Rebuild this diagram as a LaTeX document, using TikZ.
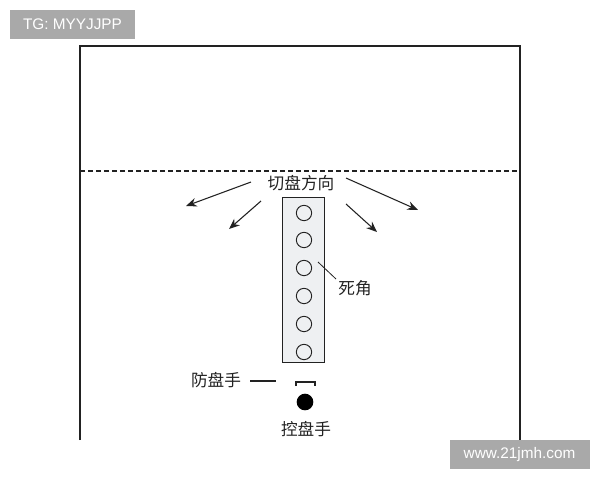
\documentclass[tikz,border=0pt]{standalone}
\usepackage{fontspec}
\setmainfont{Liberation Sans}
\newfontfamily\cjk{Noto Sans CJK SC}
\usetikzlibrary{arrows.meta}
\definecolor{wmgray}{HTML}{A9A9A9}
\definecolor{colfill}{HTML}{EEF0F2}
\definecolor{ink}{HTML}{222222}
\tikzset{
  thin line/.style={draw=ink, line width=0.8pt},
  dir arrow/.style={thin line, -{Stealth[length=8pt,width=6.5pt]}},
  hole/.style={circle, draw=ink, line width=0.7pt, minimum size=11.5pt, inner sep=0pt},
  cjklabel/.style={font=\cjk\fontsize{12.5pt}{14pt}\selectfont, text=ink, inner sep=0pt},
  watermark/.style={fill=wmgray, text=white, font=\fontsize{11.5pt}{13pt}\selectfont, inner sep=0pt, anchor=center}
}
\begin{document}
\begin{tikzpicture}[x=0.75pt, y=-0.75pt]
\useasboundingbox (0,0) rectangle (600,480);
% field outline
\coordinate (bl) at (80,440);
\coordinate (tl) at (80,46);
\coordinate (tr) at (520,46);
\coordinate (br) at (520,440);
\draw[thin line] (bl) -- (tl) -- (tr) -- (br);
% dashed line
\coordinate (dl) at (80,171);
\coordinate (dr) at (520,171);
\draw[thin line, dash pattern=on 3.5pt off 2.5pt] (dl) -- (dr);
% cutting direction label
\node[cjklabel] (qie) at (301,183) {切盘方向};
% arrows
\coordinate (a1s) at (251,182); \coordinate (a1e) at (186,206);
\coordinate (a2s) at (261,201); \coordinate (a2e) at (229,229);
\coordinate (a3s) at (346,178); \coordinate (a3e) at (418,210);
\coordinate (a4s) at (346,204); \coordinate (a4e) at (377,232);
\draw[dir arrow] (a1s) -- (a1e);
\draw[dir arrow] (a2s) -- (a2e);
\draw[dir arrow] (a3s) -- (a3e);
\draw[dir arrow] (a4s) -- (a4e);
% column
\node[draw=ink, line width=0.8pt, fill=colfill, minimum width=32pt, minimum height=124pt, inner sep=0pt] (col) at (303.5,280) {};
\foreach \i/\y in {1/213,2/240,3/268,4/296,5/324,6/352} {
  \node[hole] (h\i) at (304,\y) {};
}
% dead angle
\node[cjklabel] (si) at (355,288) {死角};
\coordinate (ls) at (318,262);
\coordinate (le) at (336,279);
\draw[thin line, line width=0.6pt] (ls) -- (le);
% defender
\node[cjklabel] (fang) at (216,380) {防盘手};
\coordinate (ds) at (250,381);
\coordinate (de) at (276,381);
\draw[thin line] (ds) -- (de);
% bracket
\coordinate (b1) at (296,386);
\coordinate (b2) at (296,382);
\coordinate (b3) at (315,382);
\coordinate (b4) at (315,386);
\draw[thin line] (b1) -- (b2) -- (b3) -- (b4);
% controller
\node[circle, fill=black, minimum size=12.5pt, inner sep=0pt] (dot) at (305,402) {};
\node[cjklabel] (kong) at (306,429) {控盘手};
% watermarks
\node[watermark, minimum width=93.75pt, minimum height=21.75pt] (wm1) at (72.5,24.5) {TG: MYYJJPP};
\node[watermark, minimum width=105pt, minimum height=21.75pt] (wm2) at (519.5,454.5) {www.21jmh.com};
\end{tikzpicture}
\end{document}
